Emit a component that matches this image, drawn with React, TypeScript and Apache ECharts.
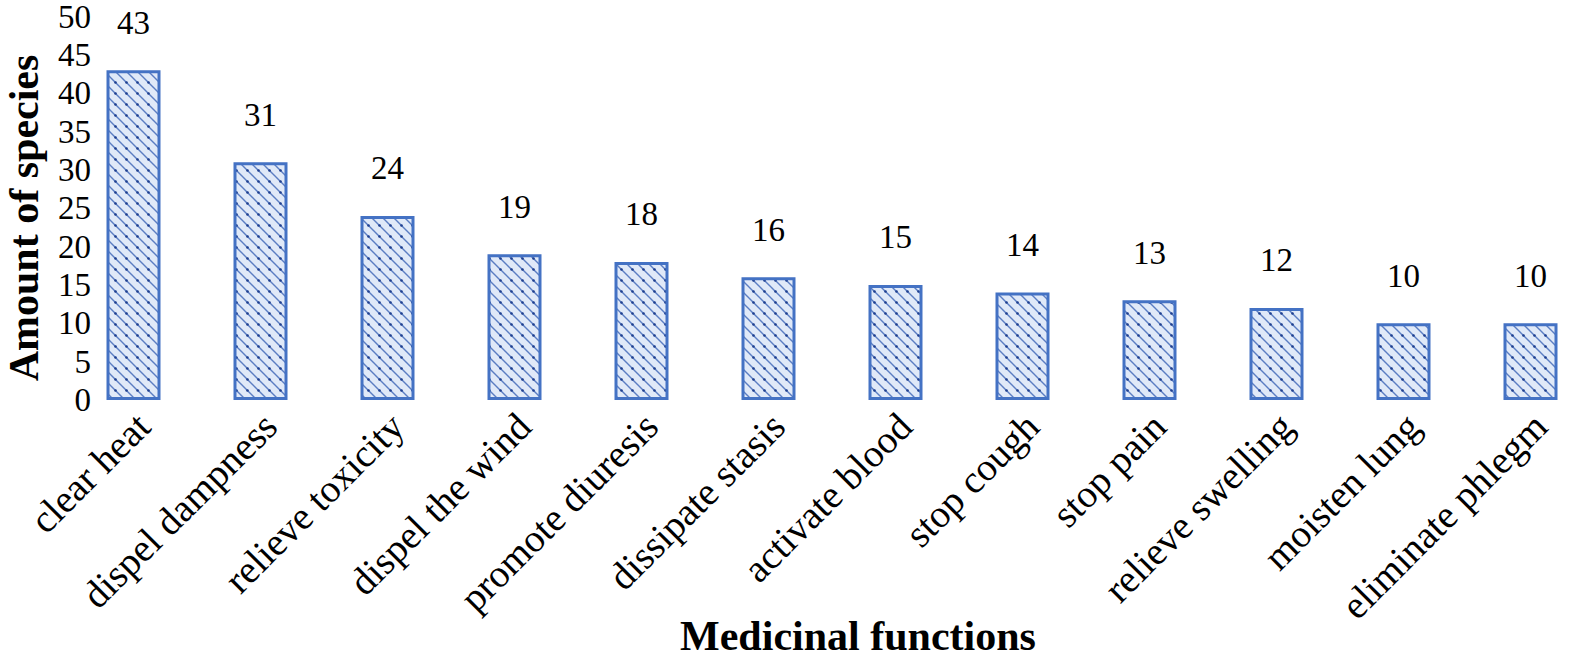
import React, { useEffect, useRef } from "react";
import * as echarts from "echarts";

const categories = [
  "clear heat",
  "dispel dampness",
  "relieve toxicity",
  "dispel the wind",
  "promote diuresis",
  "dissipate stasis",
  "activate blood",
  "stop cough",
  "stop pain",
  "relieve swelling",
  "moisten lung",
  "eliminate phlegm",
];
const speciesCounts = [43, 31, 24, 19, 18, 16, 15, 14, 13, 12, 10, 10];
const yTicks = { min: 0, max: 50, interval: 5 };
const xTitle = "Medicinal functions";
const yTitle = "Amount of species";

function makePattern(): HTMLCanvasElement {
  const c = document.createElement("canvas");
  const s = 11;
  c.width = s;
  c.height = s;
  const ctx = c.getContext("2d")!;
  ctx.fillStyle = "#e0e9f8";
  ctx.fillRect(0, 0, s, s);
  ctx.strokeStyle = "#5b7dc2";
  ctx.lineWidth = 1.4;
  ctx.beginPath();
  ctx.moveTo(-1, -1);
  ctx.lineTo(s + 1, s + 1);
  ctx.moveTo(-1, s - 1);
  ctx.lineTo(1, s + 1);
  ctx.moveTo(s - 1, -1);
  ctx.lineTo(s + 1, 1);
  ctx.stroke();
  ctx.fillStyle = "#1f3f8f";
  ctx.beginPath();
  ctx.arc(s / 2, s / 2, 1.3, 0, Math.PI * 2);
  ctx.fill();
  return c;
}

export default function App() {
  const ref = useRef<HTMLDivElement>(null);
  useEffect(() => {
    if (!ref.current) return;
    const chart = echarts.init(ref.current, undefined, { renderer: "svg" });
    const font = "'Liberation Serif', 'Times New Roman', serif";
    const pattern = makePattern();
    chart.setOption({
      animation: false,
      backgroundColor: "#ffffff",
      textStyle: { fontFamily: font },
      grid: { left: 70, top: 13, width: 1558, height: 387, containLabel: false },
      xAxis: {
        type: "category",
        data: categories,
        axisLine: { show: false },
        axisTick: { show: false },
        axisLabel: {
          rotate: 45,
          interval: 0,
          margin: 10,
          align: "right",
          verticalAlign: "top",
          lineHeight: 27,
          fontSize: 39,
          color: "#000",
          fontFamily: font,
        },
      },
      yAxis: {
        type: "value",
        min: yTicks.min,
        max: yTicks.max,
        interval: yTicks.interval,
        offset: -29,
        axisLine: { show: false },
        axisTick: { show: false },
        splitLine: { show: false },
        axisLabel: { margin: 8, fontSize: 33, color: "#000", fontFamily: font },
      },
      series: [
        {
          type: "bar",
          data: speciesCounts,
          barWidth: 54,
          itemStyle: {
            color: { image: pattern, repeat: "repeat" },
            borderColor: "#4472c4",
            borderWidth: 3,
          },
          label: {
            show: true,
            position: "top",
            distance: 31,
            fontSize: 33,
            color: "#000",
            fontFamily: font,
          },
        },
      ],
      graphic: [
        {
          type: "text",
          x: 24,
          y: 218,
          rotation: Math.PI / 2,
          style: {
            text: yTitle,
            font: `bold 42px ${font}`,
            fill: "#000",
            align: "center",
            verticalAlign: "middle",
          },
        },
        {
          type: "text",
          x: 858,
          y: 636,
          style: {
            text: xTitle,
            font: `bold 42px ${font}`,
            fill: "#000",
            align: "center",
            verticalAlign: "middle",
          },
        },
      ],
    });
    return () => chart.dispose();
  }, []);
  return (
    <div
      ref={ref}
      style={{ position: "absolute", left: 0, top: 0, width: 1594, height: 658 }}
    />
  );
}
